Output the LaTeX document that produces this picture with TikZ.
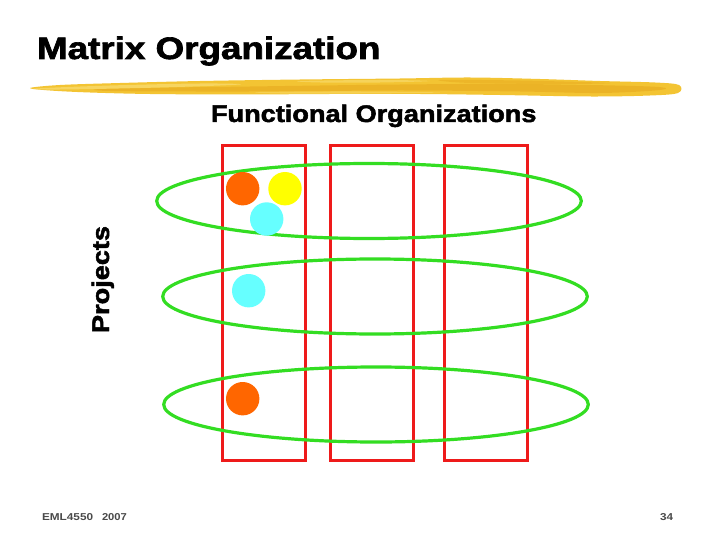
\documentclass[tikz,border=0pt]{standalone}
\usepackage{fontspec}
\setmainfont{Liberation Sans}
\newfontfamily\heavy{Liberation Sans}[BoldFeatures={FakeBold=2}]
\usetikzlibrary{shapes.geometric}
\definecolor{funcred}{HTML}{EE1A1A}
\definecolor{projgreen}{HTML}{33DD22}
\definecolor{dotorange}{HTML}{FF6600}
\definecolor{dotyellow}{HTML}{FFFF00}
\definecolor{dotcyan}{HTML}{66FFFF}
\definecolor{brushA}{HTML}{F3C433}
\definecolor{brushB}{HTML}{E9AE22}
\definecolor{brushC}{HTML}{F8D968}
\definecolor{footgray}{HTML}{4A4A4A}
\tikzset{
  funcbox/.style={draw=funcred, line width=3.3pt, rectangle, minimum width=83pt, minimum height=315pt, inner sep=0pt, outer sep=0pt},
  projring/.style={draw=projgreen, line width=3.2pt, ellipse, minimum width=424.6pt, minimum height=75pt, inner sep=0pt, outer sep=0pt},
  dot/.style={circle, minimum size=33.4pt, inner sep=0pt, outer sep=0pt},
  heading/.style={inner sep=0pt, outer sep=0pt, text=black},
  footer/.style={inner sep=0pt, outer sep=0pt, text=footgray, anchor=base west}
}
\begin{document}
\begin{tikzpicture}[x=1pt,y=-1pt]
\useasboundingbox (0,0) rectangle (720,540);
\fill[white] (0,0) rectangle (720,540);

% title
\node[heading, anchor=base west] (title) at (37,59)
  {\scalebox{1.187}[1]{\fontsize{31}{31}\selectfont\heavy\bfseries Matrix Organization}};

% brush stroke
\fill[brushA] plot[smooth cycle, tension=0.55] coordinates {
  (30,88) (60,85) (120,83) (200,81) (300,79.5) (400,78.5) (470,77.5) (540,79) (600,81) (655,82.5) (679,85)
  (678,93) (650,95.5) (590,96.5) (500,95) (420,94) (330,94) (240,94.5) (150,94) (90,92.5) (50,90.5)};
\fill[brushB, opacity=0.75] plot[smooth cycle, tension=0.55] coordinates {
  (110,88.5) (250,86.5) (400,84.5) (520,84) (650,86.5) (660,90) (600,93) (520,91.5) (400,90.5) (250,91.5) (110,91)};
\fill[brushB, opacity=0.6] plot[smooth cycle, tension=0.55] coordinates {
  (440,80) (520,80.5) (610,83) (560,84) (470,83)};
\fill[brushC, opacity=0.85] plot[smooth cycle, tension=0.6] coordinates {
  (36,88.5) (110,85.5) (200,83.5) (240,84.5) (160,87.5) (60,89.5)};
\fill[brushC, opacity=0.75] plot[smooth cycle, tension=0.6] coordinates {
  (300,81) (380,80) (430,81) (380,82.5) (320,82.5)};
\fill[brushC, opacity=0.6] plot[smooth cycle, tension=0.6] coordinates {
  (260,92) (360,91.5) (440,92.5) (360,93.5) (280,93.5)};

% subtitle and side label
\node[heading, anchor=base west] (functional) at (211,122)
  {\scalebox{1.13}[1]{\fontsize{24}{24}\selectfont\heavy\bfseries Functional Organizations}};
\node[heading, anchor=base west, rotate=90] (projects) at (109,333)
  {\scalebox{1.13}[1]{\fontsize{24}{24}\selectfont\heavy\bfseries Projects}};

% functional organizations
\node[funcbox] (f1) at (264,303) {};
\node[funcbox] (f2) at (372,303) {};
\node[funcbox] (f3) at (486,303) {};

% projects
\node[projring] (p1) at (369,201) {};
\node[projring] (p2) at (375,296.5) {};
\node[projring] (p3) at (376,404.5) {};

% people
\node[dot, fill=dotorange] (d1) at (242.7,188.7) {};
\node[dot, fill=dotyellow] (d2) at (285,188.7) {};
\node[dot, fill=dotcyan] (d3) at (266.7,219) {};
\node[dot, fill=dotcyan] (d4) at (248.7,290.7) {};
\node[dot, fill=dotorange] (d5) at (242.7,398.7) {};

% footer
\node[footer] (course) at (42,520) {\scalebox{1.18}[1]{\fontsize{10}{10}\selectfont\bfseries EML4550}};
\node[footer] (year) at (102,520) {\scalebox{1.12}[1]{\fontsize{10}{10}\selectfont\bfseries 2007}};
\node[footer] (page) at (660,520) {\scalebox{1.17}[1]{\fontsize{10}{10}\selectfont\bfseries 34}};
\end{tikzpicture}
\end{document}
